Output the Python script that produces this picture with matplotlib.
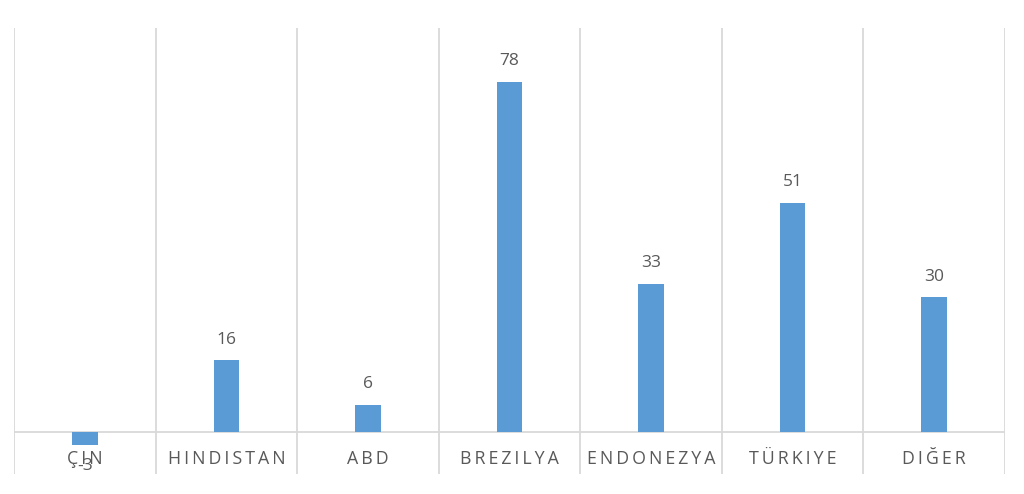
import matplotlib as mpl
mpl.use("Agg")
import matplotlib.pyplot as plt

categories = ["ÇIN", "HINDISTAN", "ABD", "BREZILYA", "ENDONEZYA", "TÜRKIYE", "DIĞER"]
values = [-3, 16, 6, 78, 33, 51, 30]

barColor = "#5b9bd5"
gridColor = "#d9d9d9"
textColor = "#595959"

plt.rcParams["font.family"] = ["Open Sans", "DejaVu Sans"]


def spaced(s):
  # wide letter spacing like the original axis labels
  return "\u2009".join(s)


fig = plt.figure(figsize=(10.24, 4.94), dpi=100)
ax = fig.add_axes([14 / 1024, 20 / 494, 991 / 1024, 446 / 494])

xs = list(range(len(categories)))
ax.bar(xs, values, width=0.18, color=barColor, zorder=3)

ax.set_xlim(-0.5, len(categories) - 0.5)
ax.set_ylim(-9.4, 90)

for b in [x - 0.5 for x in xs] + [len(categories) - 0.5]:
  ax.axvline(b, color=gridColor, lw=1.3, zorder=1)
ax.axhline(0, color=gridColor, lw=1.3, zorder=2)

for x, v in zip(xs, values):
  if v >= 0:
    ax.annotate(str(v), (x, v), xytext=(0, 9), textcoords="offset points",
        ha="center", va="bottom", fontsize=12.5, color=textColor)
  else:
    ax.annotate(str(v), (x, v), xytext=(0, -9), textcoords="offset points",
        ha="center", va="top", fontsize=12.5, color=textColor, zorder=5)

for x, c in zip(xs, categories):
  ax.annotate(spaced(c), (x, 0), xytext=(0, -19.5), textcoords="offset points",
      ha="center", va="center", fontsize=12.8, color=textColor, zorder=4)

for s in ax.spines.values():
  s.set_visible(False)
ax.set_xticks([])
ax.set_yticks([])

fig.savefig("out.png", dpi=100)
